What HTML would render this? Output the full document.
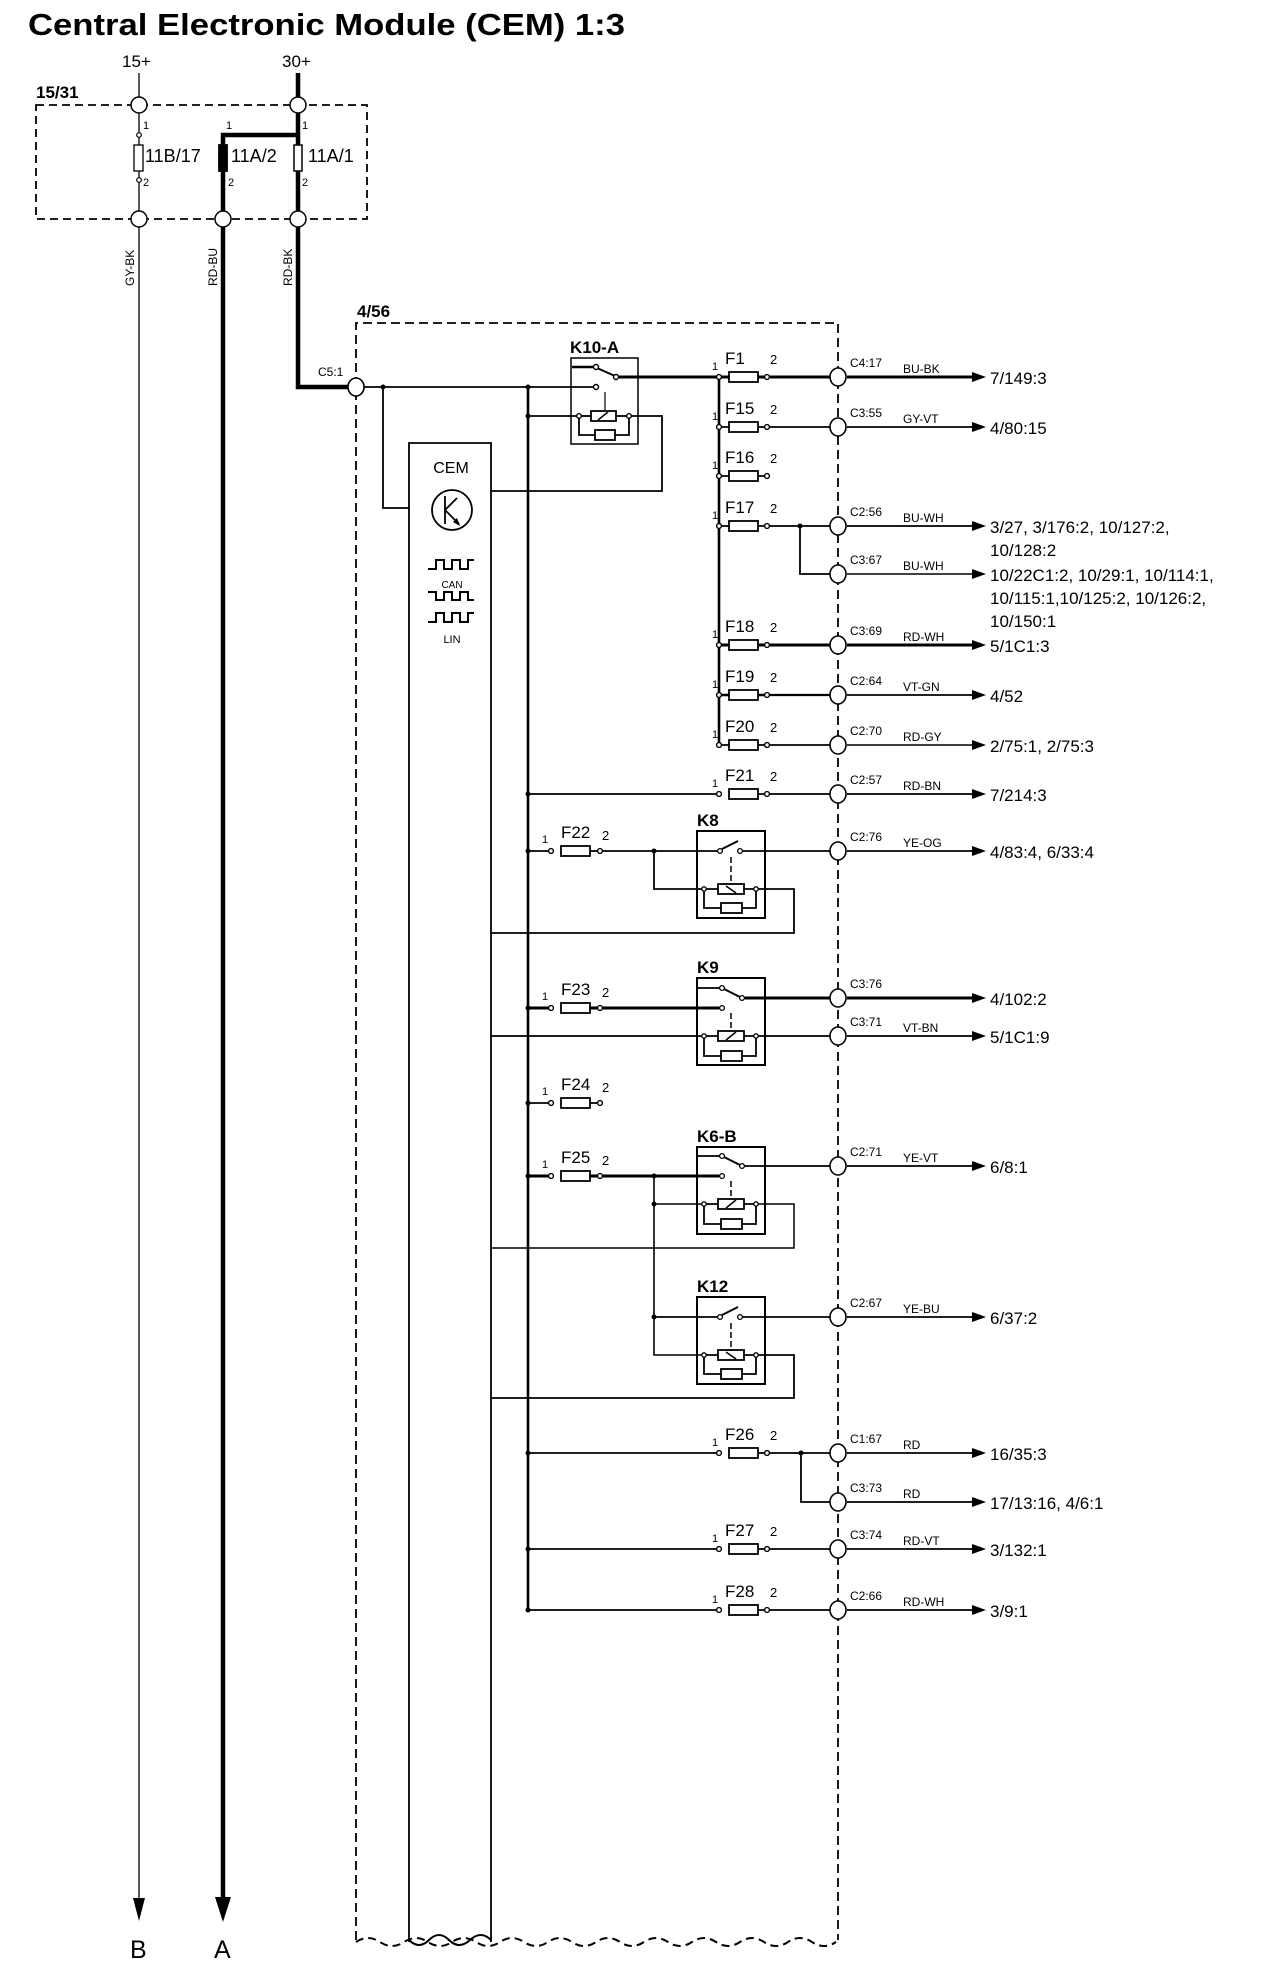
<!DOCTYPE html>
<html><head><meta charset="utf-8"><style>
html,body{margin:0;padding:0;background:#fff}
svg{display:block}
text{font-family:"Liberation Sans",sans-serif;fill:#000}
.c{font-size:12px}.w{font-size:12px}.d{font-size:17px}.f{font-size:17px}.p{font-size:11px}.k{font-size:17px;font-weight:bold}
</style></head><body>
<svg width="1280" height="1980" viewBox="0 0 1280 1980" xmlns="http://www.w3.org/2000/svg" stroke="#000" fill="none" stroke-width="1.8">
<text x="28" y="35" font-size="31" font-weight="bold" stroke="none" textLength="597" lengthAdjust="spacingAndGlyphs">Central Electronic Module (CEM) 1:3</text>
<g stroke="none" font-size="17">
<text x="122" y="67">15+</text><text x="282" y="67">30+</text>
<text x="36" y="98" font-weight="bold">15/31</text>
<text x="357" y="317" font-weight="bold">4/56</text>
</g>
<rect x="36" y="105" width="331" height="114" stroke-dasharray="8 5"/>
<line x1="139" y1="73" x2="139" y2="1902" stroke-width="1.3"/>
<polygon points="133,1898 145,1898 139,1921" fill="#000" stroke="none"/>
<polyline points="298,73 298,387 348,387" stroke-width="4.5"/>
<polyline points="298,135 223,135 223,1902" stroke-width="4.5"/>
<polygon points="215,1897 231,1897 223,1922" fill="#000" stroke="none"/>
<g stroke="none" font-size="25"><text x="130" y="1958">B</text><text x="214" y="1958">A</text></g>
<rect x="134" y="145" width="9" height="26" fill="#fff" stroke-width="1.3"/>
<rect x="219" y="145" width="8" height="26" fill="#000"/>
<rect x="294" y="145" width="8" height="26" fill="#fff" stroke-width="1.5"/>
<circle cx="139" cy="135" r="2.3" fill="#fff" stroke-width="1.2"/><circle cx="139" cy="180" r="2.3" fill="#fff" stroke-width="1.2"/>
<g stroke="none" class="p" font-size="12">
<text x="143" y="129">1</text><text x="143" y="186">2</text>
<text x="226" y="129">1</text><text x="228" y="186">2</text>
<text x="302" y="129">1</text><text x="302" y="186">2</text>
</g>
<g stroke="none" font-size="18"><text x="145" y="162">11B/17</text><text x="231" y="162">11A/2</text><text x="308" y="162">11A/1</text></g>
<g fill="#fff" stroke-width="1.5">
<ellipse cx="139" cy="105" rx="8" ry="8"/><ellipse cx="298" cy="105" rx="8" ry="8"/>
<ellipse cx="139" cy="219" rx="8" ry="8"/><ellipse cx="223" cy="219" rx="8" ry="8"/><ellipse cx="298" cy="219" rx="8" ry="8"/>
</g>
<g stroke="none" font-size="12">
<text transform="translate(134,286) rotate(-90)">GY-BK</text>
<text transform="translate(217,286) rotate(-90)">RD-BU</text>
<text transform="translate(292,286) rotate(-90)">RD-BK</text>
</g>
<path d="M356 1940 V323 H838 V1940" stroke-dasharray="9 5"/>
<path d="M356 1942 q12 -8 24 0 t24 0 t24 0 t24 0 t24 0 t24 0 t24 0 t24 0 t24 0 t24 0 t24 0 t24 0 t24 0 t24 0 t24 0 t24 0 t24 0 t24 0 t24 0 t24 0" stroke-dasharray="8 5" stroke-width="2"/>
<path d="M409 1942 V443 H491 V1942"/>
<path d="M409 1940 q10 10 20 0 t20 0 t21 0 t21 0" stroke-width="2"/>
<g stroke="none"><text x="451" y="473" font-size="16" text-anchor="middle">CEM</text>
<text x="452" y="588" font-size="10" text-anchor="middle">CAN</text>
<text x="452" y="643" font-size="11" text-anchor="middle">LIN</text></g>
<circle cx="452" cy="510" r="20" stroke-width="1.8"/>
<path d="M445 496 V524 M445 510 L457 498 M445 510 L459 524" stroke-width="1.8"/>
<polygon points="460,526 453,522 457,518" fill="#000" stroke="none"/>
<g stroke-width="2">
<path d="M428 569 h8 v-9 h8 v9 h8 v-9 h8 v9 h8 v-9 h6"/>
<path d="M428 592 h8 v8 h8 v-8 h8 v8 h8 v-8 h8 v8 h6"/>
<path d="M428 622 h8 v-9 h8 v9 h8 v-9 h8 v9 h8 v-9 h6"/>
</g>
<line x1="364" y1="387" x2="594" y2="387"/>
<polyline points="383,387 383,508 409,508"/>
<line x1="528" y1="387" x2="528" y2="1610" stroke-width="2.6"/>
<text x="570" y="353" class="k" stroke="none">K10-A</text>
<rect x="571" y="358" width="67" height="86" stroke-width="1.5"/>
<line x1="572" y1="367" x2="594" y2="367" stroke-width="2.6"/>
<line x1="597" y1="368" x2="615" y2="376" stroke-width="2"/>
<line x1="605" y1="392" x2="605" y2="410" stroke-width="1.2"/>
<line x1="528" y1="416" x2="577" y2="416"/>
<polyline points="631,416 662,416 662,491 491,491"/>
<line x1="579" y1="416" x2="591" y2="416"/><line x1="616" y1="416" x2="629" y2="416"/>
<rect x="591" y="411" width="25" height="10" stroke-width="1.8"/><line x1="598" y1="420" x2="608" y2="412" stroke-width="1.5"/>
<polyline points="579,418 579,435 595,435"/><rect x="595" y="430" width="20" height="10"/><polyline points="615,435 629,435 629,418"/>
<g fill="#fff" stroke-width="1.4"><circle cx="596" cy="367" r="2.5"/><circle cx="616" cy="377" r="2.5"/><circle cx="596" cy="387" r="2.5"/><circle cx="579" cy="416" r="2.3"/><circle cx="629" cy="416" r="2.3"/></g>
<line x1="619" y1="377" x2="719" y2="377" stroke-width="3"/>
<line x1="719" y1="377" x2="719" y2="745" stroke-width="2.6"/>
<g>
<g stroke-width="1.8">
<path d="M719 377 H729 M758 377 H767" stroke-width="3"/><rect x="729" y="372" width="29" height="10" stroke-width="1.8"/><line x1="770" y1="377" x2="830" y2="377" stroke-width="3"/>
<path d="M719 427 H729 M758 427 H767"/><rect x="729" y="422" width="29" height="10"/><line x1="770" y1="427" x2="830" y2="427"/>
<path d="M719 476 H729 M758 476 H767"/><rect x="729" y="471" width="29" height="10"/>
<path d="M719 526 H729 M758 526 H767"/><rect x="729" y="521" width="29" height="10"/><line x1="770" y1="526" x2="830" y2="526"/>
<polyline points="800,526 800,574 830,574"/>
<path d="M719 645 H729 M758 645 H767" stroke-width="3"/><rect x="729" y="640" width="29" height="10"/><line x1="770" y1="645" x2="830" y2="645" stroke-width="3"/>
<path d="M719 695 H729 M758 695 H767" stroke-width="2.5"/><rect x="729" y="690" width="29" height="10"/><line x1="770" y1="695" x2="830" y2="695" stroke-width="2.2"/>
<path d="M719 745 H729 M758 745 H767"/><rect x="729" y="740" width="29" height="10"/><line x1="770" y1="745" x2="830" y2="745"/>
<path d="M528 794 H717 M758 794 H767"/><rect x="729" y="789" width="29" height="10"/><line x1="770" y1="794" x2="830" y2="794"/>
<path d="M528 1453 H717 M758 1453 H767"/><rect x="729" y="1448" width="29" height="10"/><line x1="770" y1="1453" x2="830" y2="1453"/>
<polyline points="801,1453 801,1502 830,1502"/>
<path d="M528 1549 H717 M758 1549 H767"/><rect x="729" y="1544" width="29" height="10"/><line x1="770" y1="1549" x2="830" y2="1549"/>
<path d="M528 1610 H717 M758 1610 H767"/><rect x="729" y="1605" width="29" height="10"/><line x1="770" y1="1610" x2="830" y2="1610"/>
</g>
<g fill="#fff" stroke-width="1.4">
<circle cx="719" cy="377" r="2.4"/><circle cx="767" cy="377" r="2.4"/>
<circle cx="719" cy="427" r="2.4"/><circle cx="767" cy="427" r="2.4"/>
<circle cx="719" cy="476" r="2.4"/><circle cx="767" cy="476" r="2.4"/>
<circle cx="719" cy="526" r="2.4"/><circle cx="767" cy="526" r="2.4"/>
<circle cx="719" cy="645" r="2.4"/><circle cx="767" cy="645" r="2.4"/>
<circle cx="719" cy="695" r="2.4"/><circle cx="767" cy="695" r="2.4"/>
<circle cx="719" cy="745" r="2.4"/><circle cx="767" cy="745" r="2.4"/>
<circle cx="719" cy="794" r="2.4"/><circle cx="767" cy="794" r="2.4"/>
<circle cx="719" cy="1453" r="2.4"/><circle cx="767" cy="1453" r="2.4"/>
<circle cx="719" cy="1549" r="2.4"/><circle cx="767" cy="1549" r="2.4"/>
<circle cx="719" cy="1610" r="2.4"/><circle cx="767" cy="1610" r="2.4"/>
</g>
<g stroke="none">
<g class="p"><text x="712" y="370">1</text><text x="712" y="420">1</text><text x="712" y="469">1</text><text x="712" y="519">1</text><text x="712" y="638">1</text><text x="712" y="688">1</text><text x="712" y="738">1</text><text x="712" y="787">1</text><text x="712" y="1446">1</text><text x="712" y="1542">1</text><text x="712" y="1603">1</text></g>
<g font-size="13"><text x="770" y="364">2</text><text x="770" y="414">2</text><text x="770" y="463">2</text><text x="770" y="513">2</text><text x="770" y="632">2</text><text x="770" y="682">2</text><text x="770" y="732">2</text><text x="770" y="781">2</text><text x="770" y="1440">2</text><text x="770" y="1536">2</text><text x="770" y="1597">2</text></g>
<g class="f"><text x="725" y="364">F1</text><text x="725" y="414">F15</text><text x="725" y="463">F16</text><text x="725" y="513">F17</text><text x="725" y="632">F18</text><text x="725" y="682">F19</text><text x="725" y="732">F20</text><text x="725" y="781">F21</text><text x="725" y="1440">F26</text><text x="725" y="1536">F27</text><text x="725" y="1597">F28</text></g>
</g>
</g>
<g>
<path d="M528 851 H549 M590 851 H602"/><rect x="561" y="846" width="29" height="10"/><line x1="602" y1="851" x2="718" y2="851"/>
<path d="M528 1008 H549 M590 1008 H602" stroke-width="3"/><rect x="561" y="1003" width="29" height="10"/><line x1="602" y1="1008" x2="719" y2="1008" stroke-width="3"/>
<path d="M528 1103 H549 M590 1103 H602"/><rect x="561" y="1098" width="29" height="10"/>
<path d="M528 1176 H549 M590 1176 H602" stroke-width="3"/><rect x="561" y="1171" width="29" height="10"/><line x1="602" y1="1176" x2="719" y2="1176" stroke-width="3"/>
<g fill="#fff" stroke-width="1.4">
<circle cx="551" cy="851" r="2.4"/><circle cx="600" cy="851" r="2.4"/>
<circle cx="551" cy="1008" r="2.4"/><circle cx="600" cy="1008" r="2.4"/>
<circle cx="551" cy="1103" r="2.4"/><circle cx="600" cy="1103" r="2.4"/>
<circle cx="551" cy="1176" r="2.4"/><circle cx="600" cy="1176" r="2.4"/>
</g>
<g stroke="none">
<g class="p"><text x="542" y="843">1</text><text x="542" y="1000">1</text><text x="542" y="1095">1</text><text x="542" y="1168">1</text></g>
<g font-size="13"><text x="602" y="840">2</text><text x="602" y="997">2</text><text x="602" y="1092">2</text><text x="602" y="1165">2</text></g>
<g class="f"><text x="561" y="838">F22</text><text x="561" y="995">F23</text><text x="561" y="1090">F24</text><text x="561" y="1163">F25</text></g>
</g>
</g>
<text x="697" y="826" class="k" stroke="none">K8</text>
<rect x="697" y="831" width="68" height="87" stroke-width="2"/>
<line x1="722" y1="849" x2="738" y2="841" stroke-width="2"/>
<line x1="743" y1="851" x2="830" y2="851"/>
<line x1="731" y1="857" x2="731" y2="885" stroke-dasharray="6 3" stroke-width="1.5"/>
<polyline points="654,851 654,889 702,889"/>
<polyline points="758,889 794,889 794,933 491,933"/>
<text x="697" y="973" class="k" stroke="none">K9</text>
<rect x="697" y="978" width="68" height="87" stroke-width="2"/>
<line x1="697" y1="988" x2="720" y2="988"/>
<line x1="724" y1="989" x2="740" y2="997" stroke-width="2"/>
<line x1="745" y1="998" x2="830" y2="998" stroke-width="3"/>
<line x1="731" y1="1013" x2="731" y2="1030" stroke-dasharray="6 3" stroke-width="1.5"/>
<line x1="491" y1="1036" x2="702" y2="1036"/>
<line x1="758" y1="1036" x2="830" y2="1036"/>
<text x="697" y="1142" class="k" stroke="none">K6-B</text>
<rect x="697" y="1147" width="68" height="87" stroke-width="2"/>
<line x1="697" y1="1156" x2="720" y2="1156"/>
<line x1="724" y1="1157" x2="740" y2="1165" stroke-width="2"/>
<line x1="745" y1="1166" x2="830" y2="1166"/>
<line x1="731" y1="1181" x2="731" y2="1198" stroke-dasharray="6 3" stroke-width="1.5"/>
<polyline points="654,1176 654,1355 702,1355" stroke-width="1.6"/>
<line x1="654" y1="1204" x2="702" y2="1204" stroke-width="1.6"/>
<polyline points="758,1204 794,1204 794,1248 491,1248" stroke-width="1.5"/>
<text x="697" y="1292" class="k" stroke="none">K12</text>
<rect x="697" y="1297" width="68" height="87" stroke-width="2"/>
<line x1="654" y1="1317" x2="718" y2="1317"/>
<line x1="722" y1="1315" x2="738" y2="1307" stroke-width="2"/>
<line x1="743" y1="1317" x2="830" y2="1317"/>
<line x1="731" y1="1323" x2="731" y2="1351" stroke-dasharray="6 3" stroke-width="1.5"/>
<polyline points="758,1355 794,1355 794,1398 491,1398"/>
<g>
<path d="M706 889 H718 M744 889 H754"/><rect x="718" y="884" width="26" height="10"/><line x1="726" y1="886" x2="736" y2="893" stroke-width="1.5"/>
<polyline points="704,891 704,908 721,908"/><rect x="721" y="903" width="21" height="10"/><polyline points="742,908 756,908 756,891"/>
<path d="M706 1036 H718 M744 1036 H754"/><rect x="718" y="1031" width="26" height="10"/><line x1="726" y1="1040" x2="736" y2="1032" stroke-width="1.5"/>
<polyline points="704,1038 704,1056 721,1056"/><rect x="721" y="1051" width="21" height="10"/><polyline points="742,1056 756,1056 756,1038"/>
<path d="M706 1204 H718 M744 1204 H754"/><rect x="718" y="1199" width="26" height="10"/><line x1="726" y1="1208" x2="736" y2="1200" stroke-width="1.5"/>
<polyline points="704,1206 704,1224 721,1224"/><rect x="721" y="1219" width="21" height="10"/><polyline points="742,1224 756,1224 756,1206"/>
<path d="M706 1355 H718 M744 1355 H754"/><rect x="718" y="1350" width="26" height="10"/><line x1="726" y1="1352" x2="736" y2="1359" stroke-width="1.5"/>
<polyline points="704,1357 704,1374 721,1374"/><rect x="721" y="1369" width="21" height="10"/><polyline points="742,1374 756,1374 756,1357"/>
</g>
<g fill="#fff" stroke-width="1.3">
<circle cx="720" cy="851" r="2.4"/><circle cx="740" cy="851" r="2.4"/>
<circle cx="722" cy="988" r="2.4"/><circle cx="742" cy="998" r="2.4"/><circle cx="722" cy="1008" r="2.4"/>
<circle cx="722" cy="1156" r="2.4"/><circle cx="742" cy="1166" r="2.4"/><circle cx="722" cy="1176" r="2.4"/>
<circle cx="720" cy="1317" r="2.4"/><circle cx="740" cy="1317" r="2.4"/>
<circle cx="704" cy="889" r="2.2"/><circle cx="756" cy="889" r="2.2"/>
<circle cx="704" cy="1036" r="2.2"/><circle cx="756" cy="1036" r="2.2"/>
<circle cx="704" cy="1204" r="2.2"/><circle cx="756" cy="1204" r="2.2"/>
<circle cx="704" cy="1355" r="2.2"/><circle cx="756" cy="1355" r="2.2"/>
</g>
<g fill="#000" stroke="none">
<circle cx="383" cy="387" r="2.5"/><circle cx="528" cy="387" r="2.5"/><circle cx="528" cy="416" r="2.5"/>
<circle cx="528" cy="794" r="2.5"/><circle cx="528" cy="851" r="2.5"/><circle cx="528" cy="1008" r="2.5"/><circle cx="528" cy="1103" r="2.5"/><circle cx="528" cy="1176" r="2.5"/><circle cx="528" cy="1453" r="2.5"/><circle cx="528" cy="1549" r="2.5"/><circle cx="528" cy="1610" r="2.5"/>
<circle cx="654" cy="851" r="2.5"/><circle cx="654" cy="1176" r="2.5"/><circle cx="654" cy="1204" r="2.5"/><circle cx="654" cy="1317" r="2.5"/>
<circle cx="800" cy="526" r="2.5"/><circle cx="801" cy="1453" r="2.5"/>
</g>
<g>
<line x1="847" y1="377" x2="978" y2="377" stroke-width="3"/>
<line x1="847" y1="427" x2="978" y2="427"/>
<line x1="847" y1="526" x2="978" y2="526"/>
<line x1="847" y1="574" x2="978" y2="574" stroke-width="1.4"/>
<line x1="847" y1="645" x2="978" y2="645" stroke-width="3"/>
<line x1="847" y1="695" x2="978" y2="695"/>
<line x1="847" y1="745" x2="978" y2="745" stroke-width="1.4"/>
<line x1="847" y1="794" x2="978" y2="794"/>
<line x1="847" y1="851" x2="978" y2="851"/>
<line x1="847" y1="998" x2="978" y2="998" stroke-width="3"/>
<line x1="847" y1="1036" x2="978" y2="1036"/>
<line x1="847" y1="1166" x2="978" y2="1166"/>
<line x1="847" y1="1317" x2="978" y2="1317"/>
<line x1="847" y1="1453" x2="978" y2="1453"/>
<line x1="847" y1="1502" x2="978" y2="1502"/>
<line x1="847" y1="1549" x2="978" y2="1549"/>
<line x1="847" y1="1610" x2="978" y2="1610"/>
</g>
<g fill="#000" stroke="none">
<polygon points="972,372 986,377 972,382"/><polygon points="972,422 986,427 972,432"/><polygon points="972,521 986,526 972,531"/><polygon points="972,569 986,574 972,579"/><polygon points="972,640 986,645 972,650"/><polygon points="972,690 986,695 972,700"/><polygon points="972,740 986,745 972,750"/><polygon points="972,789 986,794 972,799"/><polygon points="972,846 986,851 972,856"/><polygon points="972,993 986,998 972,1003"/><polygon points="972,1031 986,1036 972,1041"/><polygon points="972,1161 986,1166 972,1171"/><polygon points="972,1312 986,1317 972,1322"/><polygon points="972,1448 986,1453 972,1458"/><polygon points="972,1497 986,1502 972,1507"/><polygon points="972,1544 986,1549 972,1554"/><polygon points="972,1605 986,1610 972,1615"/>
</g>
<g fill="#fff" stroke-width="1.6">
<ellipse cx="356" cy="387" rx="8" ry="9"/>
<ellipse cx="838" cy="377" rx="8" ry="9"/><ellipse cx="838" cy="427" rx="8" ry="9"/><ellipse cx="838" cy="526" rx="8" ry="9"/><ellipse cx="838" cy="574" rx="8" ry="9"/><ellipse cx="838" cy="645" rx="8" ry="9"/><ellipse cx="838" cy="695" rx="8" ry="9"/><ellipse cx="838" cy="745" rx="8" ry="9"/><ellipse cx="838" cy="794" rx="8" ry="9"/><ellipse cx="838" cy="851" rx="8" ry="9"/><ellipse cx="838" cy="998" rx="8" ry="9"/><ellipse cx="838" cy="1036" rx="8" ry="9"/><ellipse cx="838" cy="1166" rx="8" ry="9"/><ellipse cx="838" cy="1317" rx="8" ry="9"/><ellipse cx="838" cy="1453" rx="8" ry="9"/><ellipse cx="838" cy="1502" rx="8" ry="9"/><ellipse cx="838" cy="1549" rx="8" ry="9"/><ellipse cx="838" cy="1610" rx="8" ry="9"/>
</g>
<g stroke="none">
<g class="c">
<text x="318" y="376">C5:1</text>
<text x="850" y="367">C4:17</text><text x="850" y="417">C3:55</text><text x="850" y="516">C2:56</text><text x="850" y="564">C3:67</text><text x="850" y="635">C3:69</text><text x="850" y="685">C2:64</text><text x="850" y="735">C2:70</text><text x="850" y="784">C2:57</text><text x="850" y="841">C2:76</text><text x="850" y="988">C3:76</text><text x="850" y="1026">C3:71</text><text x="850" y="1156">C2:71</text><text x="850" y="1307">C2:67</text><text x="850" y="1443">C1:67</text><text x="850" y="1492">C3:73</text><text x="850" y="1539">C3:74</text><text x="850" y="1600">C2:66</text>
</g>
<g class="w">
<text x="903" y="373">BU-BK</text><text x="903" y="423">GY-VT</text><text x="903" y="522">BU-WH</text><text x="903" y="570">BU-WH</text><text x="903" y="641">RD-WH</text><text x="903" y="691">VT-GN</text><text x="903" y="741">RD-GY</text><text x="903" y="790">RD-BN</text><text x="903" y="847">YE-OG</text><text x="903" y="1032">VT-BN</text><text x="903" y="1162">YE-VT</text><text x="903" y="1313">YE-BU</text><text x="903" y="1449">RD</text><text x="903" y="1498">RD</text><text x="903" y="1545">RD-VT</text><text x="903" y="1606">RD-WH</text>
</g>
<g class="d">
<text x="990" y="384">7/149:3</text>
<text x="990" y="434">4/80:15</text>
<text x="990" y="533">3/27, 3/176:2, 10/127:2,</text><text x="990" y="556">10/128:2</text>
<text x="990" y="581">10/22C1:2, 10/29:1, 10/114:1,</text><text x="990" y="604">10/115:1,10/125:2, 10/126:2,</text><text x="990" y="627">10/150:1</text>
<text x="990" y="652">5/1C1:3</text>
<text x="990" y="702">4/52</text>
<text x="990" y="752">2/75:1, 2/75:3</text>
<text x="990" y="801">7/214:3</text>
<text x="990" y="858">4/83:4, 6/33:4</text>
<text x="990" y="1005">4/102:2</text>
<text x="990" y="1043">5/1C1:9</text>
<text x="990" y="1173">6/8:1</text>
<text x="990" y="1324">6/37:2</text>
<text x="990" y="1460">16/35:3</text>
<text x="990" y="1509">17/13:16, 4/6:1</text>
<text x="990" y="1556">3/132:1</text>
<text x="990" y="1617">3/9:1</text>
</g>
</g>
</svg>
</body></html>
